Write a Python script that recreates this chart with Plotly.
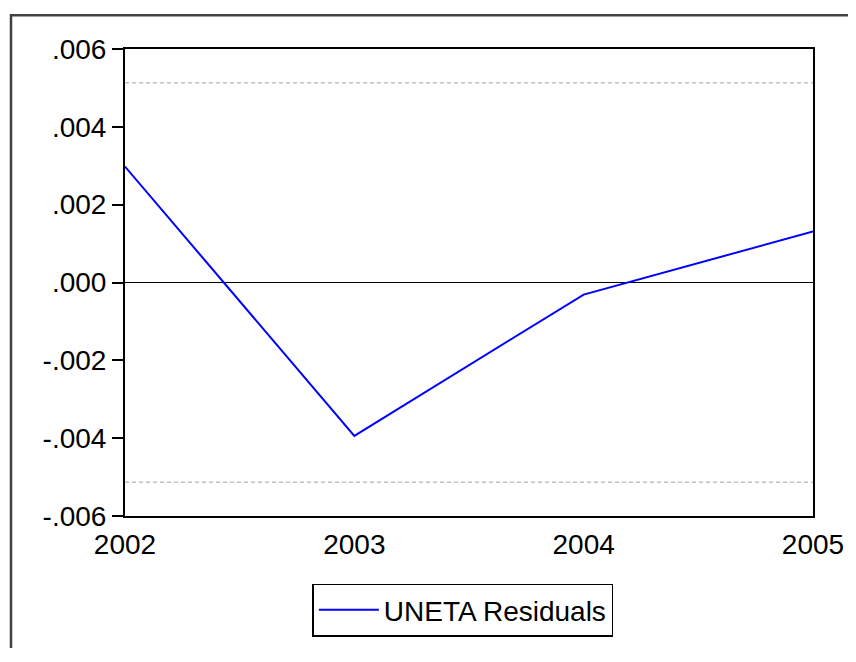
import plotly.graph_objects as go

years = [2002, 2003, 2004, 2005]
residuals = [0.00298, -0.00394, -0.00031, 0.00131]
band = 0.00513
y_ticks = [-0.006, -0.004, -0.002, 0.0, 0.002, 0.004, 0.006]
y_tick_labels = ["-.006", "-.004", "-.002", ".000", ".002", ".004", ".006"]
x_tick_labels = ["2002", "2003", "2004", "2005"]

OFF = 8  # page body margin
W, H = 856 - OFF, 662 - 2 * OFF - 6
L, T = 125 - OFF, 49 - OFF
R = W - (819 - OFF)
B = H - (533 - OFF)
pw, ph = W - L - R, H - T - B

def px_x(p):
    return (p - OFF - L) / pw

def px_y(p):
    return 1 - (p - OFF - T) / ph

FONT = "Liberation Sans, Arial, sans-serif"
FS = 28

fig = go.Figure()
fig.add_trace(go.Scatter(
    x=years, y=residuals, mode="lines", name="UNETA Residuals",
    line=dict(color="#0000FF", width=2),
))

shapes = [
    dict(type="line", xref="paper", yref="y", x0=0, x1=1, y0=0, y1=0,
         line=dict(color="black", width=1.2), layer="below"),
    dict(type="line", xref="paper", yref="y", x0=0, x1=1, y0=band, y1=band,
         line=dict(color="#A0A0A0", width=1, dash="4px,3px"), layer="below"),
    dict(type="line", xref="paper", yref="y", x0=0, x1=1, y0=-band, y1=-band,
         line=dict(color="#A0A0A0", width=1, dash="4px,3px"), layer="below"),
    dict(type="rect", xref="paper", yref="paper",
         x0=px_x(10), x1=px_x(890), y0=px_y(700), y1=px_y(14),
         line=dict(color="#404040", width=2.5)),
]

fig.update_layout(
    width=W, height=H,
    margin=dict(l=L, r=R, t=T, b=B, pad=0),
    paper_bgcolor="white", plot_bgcolor="white",
    font=dict(family=FONT, size=FS, color="black"),
    showlegend=True,
    legend=dict(
        x=px_x(314), y=px_y(603), xanchor="left", yanchor="top",
        bordercolor="black", borderwidth=1.5, bgcolor="white",
        font=dict(family=FONT, size=FS, color="black"),
        itemwidth=60, tracegroupgap=0,
    ),
    shapes=shapes,
    xaxis=dict(
        range=[2002, 2005], tickmode="array", tickvals=years, ticktext=x_tick_labels,
        showgrid=False, zeroline=False, showline=True, linecolor="black", linewidth=2,
        mirror=True, ticks="", ticklabelstandoff=2, ticklabeloverflow="allow",
        tickfont=dict(family=FONT, size=FS, color="black"),
    ),
    yaxis=dict(
        range=[-0.006, 0.006], tickmode="array", tickvals=y_ticks, ticktext=y_tick_labels,
        showgrid=False, zeroline=False, showline=True, linecolor="black", linewidth=2,
        mirror=True, ticks="outside", ticklen=11, tickwidth=1.5, tickcolor="black",
        ticklabelstandoff=0,
        tickfont=dict(family=FONT, size=FS, color="black"),
    ),
)

fig.write_html("out.html")
